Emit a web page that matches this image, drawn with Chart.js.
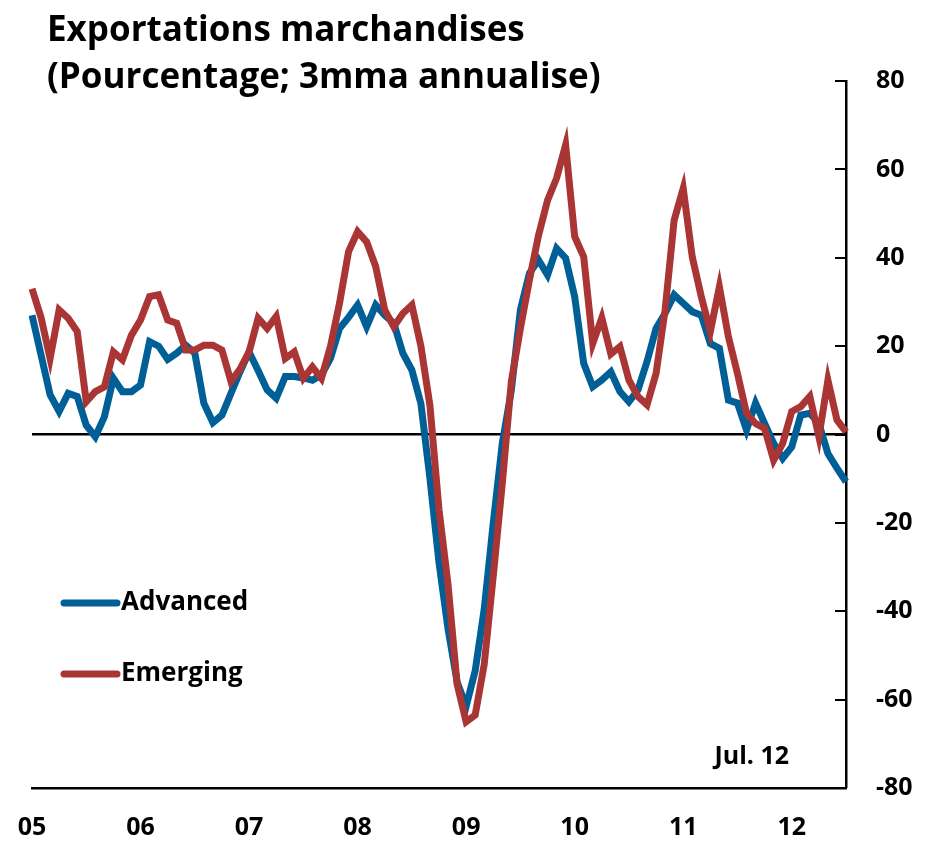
<!DOCTYPE html>
<html>
<head>
<meta charset="utf-8">
<title>Exportations marchandises</title>
<script src="https://cdn.jsdelivr.net/npm/chart.js@4.4.0/dist/chart.umd.min.js"></script>
<style>
  html, body { margin: 0; padding: 0; background: #fff; }
  #wrap { width: 938px; height: 843px; position: relative; }
</style>
</head>
<body>
<div id="wrap"><canvas id="exportsChart"></canvas></div>
<script>
// monthly observations, Jan 2005 .. Jul 2012
const yearLabels = ['05', '06', '07', '08', '09', '10', '11', '12'];
const months = [];
for (let i = 0; i < 91; i++) {
  months.push(yearLabels[Math.floor(i / 12)] + '-' + String(i % 12 + 1).padStart(2, '0'));
}

const advanced = [
  27, 18, 9, 5.2, 9.3, 8.6, 2.1, -0.5, 4, 12.7, 9.7, 9.7,
  11.2, 21, 20, 17, 18.4, 20.2, 18.4, 7.1, 2.7, 4.4, 9.3, 14.2,
  18.7, 14.5, 10.1, 8.2, 13.1, 13.1, 12.8, 12.3, 13.5, 17.2, 24, 26.5,
  29.3, 24.4, 29.3, 27, 25.2, 18.4, 14.6, 7, -10, -29, -44, -56,
  -61.5, -53.5, -39.5, -20, -2, 10, 28.2, 36.5, 39.5, 36.1, 42.1, 39.9,
  31.2, 16.1, 10.8, 12.3, 14.2, 9.7, 7.4, 10.1, 16.5, 24, 27.4, 31.6,
  29.7, 27.8, 27, 20.6, 19.5, 7.8, 7.1, 1, 7.1, 2.5, -2, -5.4,
  -2.8, 4.4, 4.8, 2.5, -4.3, -7.6, -10.7
];
const emerging = [
  33, 26.5, 17.2, 28.2, 26.3, 23.3, 7.4, 9.7, 10.8, 18.7, 16.9, 22.5,
  25.9, 31.2, 31.6, 25.9, 25.2, 19.1, 19.1, 20.2, 20.2, 19.1, 12, 14.8,
  18.7, 26.3, 24, 26.7, 17.2, 18.7, 12.7, 15.3, 12.7, 19.9, 29.7, 41.4,
  45.9, 43.6, 38, 28.2, 24.4, 27.4, 29.3, 20, 6.5, -17, -34, -56.5,
  -65, -63.5, -52, -32, -11, 12, 24, 35, 45, 53, 58, 65.5,
  44.8, 40.2, 20.6, 26.4, 18.2, 19.9, 12.3, 8.6, 6.7, 13.8, 28.2, 48.5,
  55.7, 40.2, 31.2, 23.3, 33.4, 22.1, 13.8, 4.8, 2.5, 1.4, -5.8, -2,
  5.2, 6.3, 8.6, -0.5, 12.3, 3.3, 0.6
];

const titleLines = ['Exportations marchandises', '(Pourcentage; 3mma annualise)'];
const lastObs = 'Jul. 12';

const FONT = '"Open Sans", Lato, sans-serif';
const BLUE = '#005F96';
const RED = '#AA3535';

// title, inward ticks on the right axis, inline legend, end-date note
const decor = {
  id: 'decor',
  afterDraw(chart) {
    const { ctx, scales: { y } } = chart;
    ctx.save();

    ctx.strokeStyle = '#000';
    ctx.lineWidth = 2;
    y.ticks.forEach(t => {
      const py = Math.round(y.getPixelForValue(t.value));
      ctx.beginPath();
      ctx.moveTo(y.left - 11, py);
      ctx.lineTo(y.left, py);
      ctx.stroke();
    });

    ctx.fillStyle = '#000';
    ctx.textAlign = 'left';
    ctx.textBaseline = 'alphabetic';
    ctx.font = 'bold 35px ' + FONT;
    ctx.fillText(titleLines[0], 47, 41);
    ctx.fillText(titleLines[1], 47, 88);

    const legendY = [603, 674];
    chart.data.datasets.forEach((ds, i) => {
      ctx.strokeStyle = ds.borderColor;
      ctx.lineWidth = 7;
      ctx.lineCap = 'round';
      ctx.beginPath();
      ctx.moveTo(64, legendY[i]);
      ctx.lineTo(117, legendY[i]);
      ctx.stroke();
      ctx.fillStyle = '#000';
      ctx.font = 'bold 26px ' + FONT;
      ctx.textBaseline = 'middle';
      ctx.fillText(ds.label, 121, legendY[i]);
    });

    ctx.textAlign = 'right';
    ctx.textBaseline = 'middle';
    ctx.font = 'bold 25px ' + FONT;
    ctx.fillText(lastObs, 789, 757);
    ctx.restore();
  }
};

new Chart(document.getElementById('exportsChart'), {
  type: 'line',
  data: {
    labels: months,
    datasets: [
      { label: 'Advanced', data: advanced, borderColor: BLUE, borderWidth: 7, pointRadius: 0, tension: 0, order: 1 },
      { label: 'Emerging', data: emerging, borderColor: RED, borderWidth: 7, pointRadius: 0, tension: 0, order: 0 }
    ]
  },
  options: {
    responsive: true,
    maintainAspectRatio: false,
    animation: false,
    layout: { padding: { top: 81, left: 32, right: 0, bottom: 0 } },
    plugins: { legend: { display: false }, tooltip: { enabled: false }, title: { display: false } },
    scales: {
      x: {
        type: 'category',
        offset: false,
        grid: { display: false, drawTicks: false },
        border: { display: true, color: '#000', width: 2.5 },
        ticks: {
          autoSkip: false,
          maxRotation: 0,
          padding: 25,
          color: '#000',
          font: { family: FONT, size: 25, weight: 'bold' },
          callback: (v, i) => (i % 12 === 0 ? yearLabels[i / 12] : '')
        },
        afterFit: s => { s.height = 55; s.paddingLeft = 0; s.paddingRight = 0; }
      },
      y: {
        position: 'right',
        min: -80,
        max: 80,
        grid: {
          drawTicks: false,
          lineWidth: c => (c.tick && c.tick.value === 0 ? 2.5 : 0),
          color: c => (c.tick && c.tick.value === 0 ? '#000' : 'rgba(0,0,0,0)')
        },
        border: { display: true, color: '#000', width: 2.5 },
        ticks: {
          stepSize: 20,
          padding: 30,
          color: '#000',
          font: { family: FONT, size: 25, weight: 'bold' }
        },
        afterFit: s => { s.width = 92; }
      }
    }
  },
  plugins: [decor]
});
</script>
</body>
</html>
